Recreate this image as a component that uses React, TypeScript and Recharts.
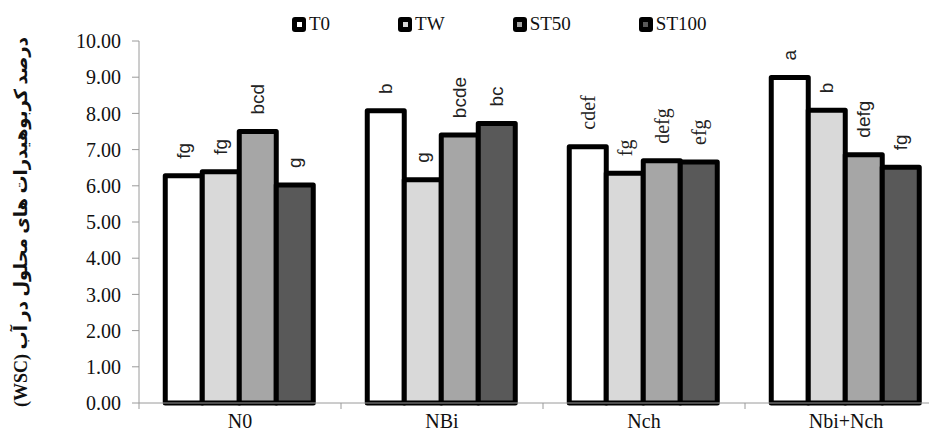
import { BarChart, Bar, XAxis, YAxis, LabelList } from 'recharts';

const categories = ['N0', 'NBi', 'Nch', 'Nbi+Nch'];
const seriesNames = ['T0', 'TW', 'ST50', 'ST100'];
const t0 = [6.28, 8.07, 7.08, 8.99];
const tw = [6.39, 6.17, 6.35, 8.09];
const st50 = [7.5, 7.4, 6.69, 6.86];
const st100 = [6.02, 7.72, 6.66, 6.51];
const t0Letters = ['fg', 'b', 'cdef', 'a'];
const twLetters = ['fg', 'g', 'fg', 'b'];
const st50Letters = ['bcd', 'bcde', 'defg', 'defg'];
const st100Letters = ['g', 'bc', 'efg', 'fg'];
const yTicks = [0, 1, 2, 3, 4, 5, 6, 7, 8, 9, 10];
const yTitle = 'درصد کربوهیدرات های محلول در آب (WSC)';

const colors = ['#ffffff', '#d9d9d9', '#a6a6a6', '#595959'];
const serifGroups = ['Nch'];

const W = 950;
const H = 438;
const LEFT = 139;
const RIGHT = 3;
const band = (W - LEFT - RIGHT) / categories.length;

const data = categories.map((name, i) => ({
    name,
    T0: t0[i],
    TW: tw[i],
    ST50: st50[i],
    ST100: st100[i],
}));

const letterSets = [t0Letters, twLetters, st50Letters, st100Letters];

const makeLabel = (letters: string[]) => (props: any) => {
    const { x, y, width, index } = props;
    const cx = x + width / 2;
    const cy = y - 17;
    const serif = serifGroups.includes(categories[index]);
    return (
        <text
            x={cx}
            y={cy}
            transform={`rotate(-90 ${cx} ${cy})`}
            textAnchor="start"
            dominantBaseline="central"
            fontFamily={serif ? 'Liberation Serif' : 'Liberation Sans'}
            fontSize={serif ? 20 : 19}
            fill="#222"
        >
            {letters[index]}
        </text>
    );
};

const XTick = (props: any) => {
    const { x, y, payload, index } = props;
    return (
        <g>
            <line x1={x - band / 2} x2={x - band / 2} y1={y - 8} y2={y - 2} stroke="#9a9a9a" />
            {index === categories.length - 1 && (
                <line x1={x + band / 2} x2={x + band / 2} y1={y - 8} y2={y - 2} stroke="#9a9a9a" />
            )}
            <text x={x} y={y + 17} textAnchor="middle" fontFamily="Liberation Serif" fontSize={20} fill="#111">
                {payload.value}
            </text>
        </g>
    );
};

const YTitle = (props: any) => {
    const { viewBox } = props;
    const cx = 21;
    const cy = viewBox.y + viewBox.height / 2;
    return (
        <text
            x={cx}
            y={cy}
            transform={`rotate(-90 ${cx} ${cy})`}
            textAnchor="middle"
            dominantBaseline="central"
            direction="rtl"
            fontFamily="Liberation Serif, DejaVu Sans"
            fontWeight="bold"
            fontSize={18}
            fill="#111"
        >
            {yTitle}
        </text>
    );
};

export default function App() {
    return (
        <div style={{ margin: -8, width: 937, height: H, overflow: 'hidden', position: 'relative', background: '#fff' }}>
            <div
                style={{
                    position: 'absolute',
                    top: 13,
                    left: 292,
                    display: 'flex',
                    gap: 68,
                    alignItems: 'center',
                    fontFamily: 'Liberation Serif',
                    fontSize: 19,
                    color: '#111',
                    zIndex: 1,
                }}
            >
                {seriesNames.map((s, i) => (
                    <div key={s} style={{ display: 'flex', alignItems: 'center' }}>
                        <div
                            style={{
                                width: 14,
                                height: 15,
                                background: '#000',
                                borderRadius: 3,
                                display: 'flex',
                                alignItems: 'center',
                                justifyContent: 'center',
                                marginRight: 3,
                            }}
                        >
                            <div style={{ width: 5, height: 5, background: colors[i] }} />
                        </div>
                        <span>{s}</span>
                    </div>
                ))}
            </div>
            <BarChart
                width={W}
                height={H}
                data={data}
                margin={{ top: 41, right: RIGHT, bottom: 0, left: 0 }}
                barCategoryGap="13%"
                barGap={0}
            >
                <XAxis
                    dataKey="name"
                    height={35}
                    tickLine={false}
                    axisLine={{ stroke: '#9a9a9a' }}
                    tick={<XTick />}
                    interval={0}
                />
                <YAxis
                    width={LEFT}
                    domain={[0, 10]}
                    ticks={yTicks}
                    interval={0}
                    tickFormatter={(v: number) => v.toFixed(2)}
                    tickSize={7}
                    tickMargin={11}
                    axisLine={{ stroke: '#9a9a9a' }}
                    tickLine={{ stroke: '#9a9a9a' }}
                    tick={{ fontFamily: 'Liberation Serif', fontSize: 20, fill: '#111' }}
                    label={<YTitle />}
                />
                {seriesNames.map((s, i) => (
                    <Bar
                        key={s}
                        dataKey={s}
                        fill={colors[i]}
                        stroke="#000"
                        strokeWidth={5}
                        strokeLinejoin="round"
                        isAnimationActive={false}
                    >
                        <LabelList dataKey={s} content={makeLabel(letterSets[i])} />
                    </Bar>
                ))}
            </BarChart>
        </div>
    );
}
